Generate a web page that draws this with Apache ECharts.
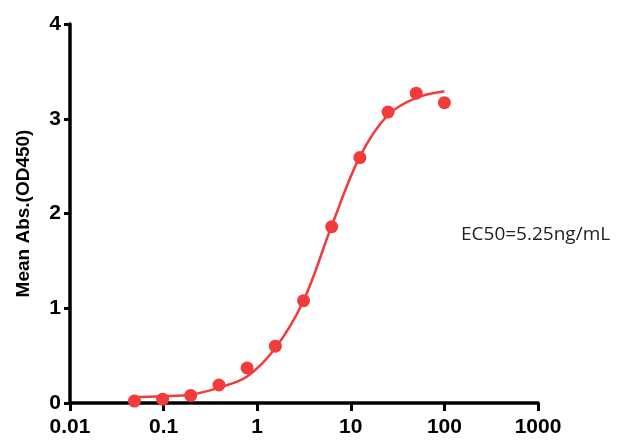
<!DOCTYPE html>
<html><head><meta charset="utf-8">
<script src="https://cdn.jsdelivr.net/npm/echarts@6/dist/echarts.min.js"></script>
<style>html,body{margin:0;padding:0;background:#fff}#c{width:617px;height:441px}</style>
</head><body><div id="c"></div>
<script>
// Measured points (concentration ng/mL, mean OD450)
var conc = [0.0488, 0.0977, 0.195, 0.39, 0.78, 1.5625, 3.125, 6.25, 12.5, 25, 50, 100];
var od   = [0.02, 0.04, 0.08, 0.19, 0.37, 0.60, 1.08, 1.86, 2.59, 3.07, 3.27, 3.17];
// Fitted curve
var curveX = [0.0437, 0.1, 0.2, 0.4, 0.78, 1.5625, 3.125, 6.25, 12.5, 25, 50, 100];
var curveY = [0.06, 0.07, 0.09, 0.165, 0.28, 0.58, 1.08, 1.87, 2.6, 3.04, 3.22, 3.29];
var xTicks = [0.01, 0.1, 1, 10, 100, 1000];
var yTicks = [0, 1, 2, 3, 4];
var annotation = 'EC50=5.25ng/mL';
var yName = 'Mean Abs.(OD450)';

var red = '#f23b3b';
var chart = echarts.init(document.getElementById('c'));
chart.setOption({
  animation: false,
  grid: {left: 70, right: 79, top: 24, bottom: 38},
  xAxis: {
    type: 'log', logBase: 10, min: xTicks[0], max: xTicks[xTicks.length - 1],
    axisLine: {onZero: false, lineStyle: {color: '#000', width: 3.5}},
    axisTick: {show: true, length: 8, lineStyle: {color: '#000', width: 3}},
    minorTick: {show: false},
    splitLine: {show: false},
    axisLabel: {color: '#000', fontFamily: 'Liberation Sans', fontWeight: 'bold', fontSize: 21, margin: 14,
      formatter: function (v) { return String(v); }}
  },
  yAxis: {
    type: 'value', min: yTicks[0], max: yTicks[yTicks.length - 1], interval: 1,
    name: yName, nameLocation: 'middle', nameGap: 37,
    nameTextStyle: {color: '#000', fontFamily: 'Liberation Sans', fontWeight: 'bold', fontSize: 19},
    axisLine: {show: true, lineStyle: {color: '#000', width: 3.5}},
    axisTick: {show: true, length: 6, lineStyle: {color: '#000', width: 3}},
    splitLine: {show: false},
    axisLabel: {color: '#000', fontFamily: 'Liberation Sans', fontWeight: 'bold', fontSize: 21, margin: 9}
  },
  graphic: [{
    type: 'text', left: 461, top: 225,
    style: {text: annotation, fill: '#222', font: '19px "Open Sans"'}
  }],
  series: [{
    type: 'line', smooth: 0.35, showSymbol: false, silent: true,
    lineStyle: {color: red, width: 2.5},
    data: curveX.map(function (x, i) { return [x, curveY[i]]; }),
    z: 2
  }, {
    type: 'scatter', symbol: 'circle', symbolSize: 13,
    itemStyle: {color: red, opacity: 1},
    data: conc.map(function (x, i) { return [x, od[i]]; }),
    z: 3
  }]
});
</script></body></html>
